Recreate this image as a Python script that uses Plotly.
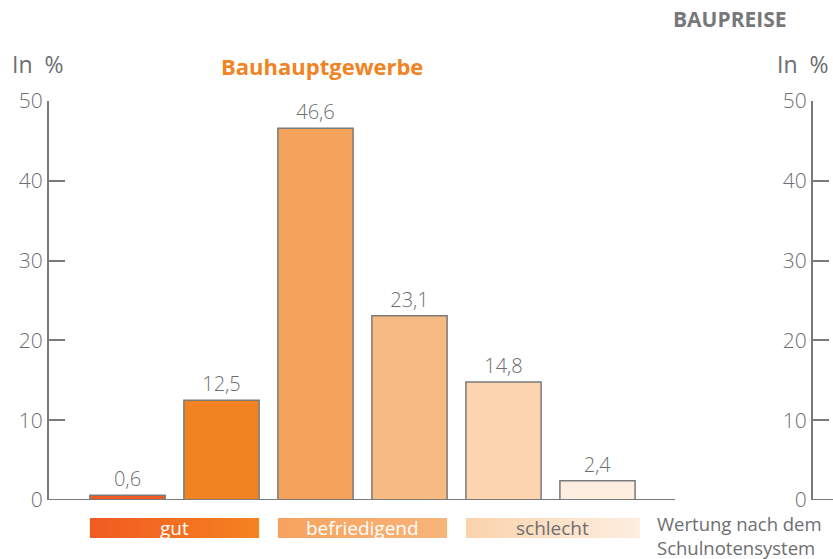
import plotly.graph_objects as go

# ---- data ----
grades = ["1", "2", "3", "4", "5", "6"]
shares = [0.6, 12.5, 46.6, 23.1, 14.8, 2.4]
bar_colors = ["#F15A22", "#F28322", "#F5A35C", "#F8BA83", "#FCD4AE", "#FDEEDF"]
y_ticks = [0, 10, 20, 30, 40, 50]
legend_labels = ["gut", "befriedigend", "schlecht"]
legend_first = [0, 2, 4]
legend_last = [1, 3, 5]
legend_extra = [0.0, 0.0, 0.05]
legend_colors = [("#F15A22", "#F4831F"), ("#F6A35E", "#F8B47A"), ("#FBD3AD", "#FDEEE0")]
legend_text_colors = ["white", "white", "#6d6e71"]

GRAY = "#6d6e71"
AXC = "#7a7a7a"
FONT = "Open Sans"
W, H = 833, 559
ML, MT = 49, 101
BAR_W = 0.8

x = list(range(len(grades)))

plot_w = W - ML
plot_h = H - MT
right_axis = (812 - ML) / plot_w
y_bottom = (H - 500) / plot_h
px_per_cat = 94
xr = [-(127.5 - ML) / px_per_cat, -(127.5 - ML) / px_per_cat + (W - ML) / px_per_cat]
x_main_end = (675 - 127.5) / px_per_cat

fig = go.Figure()
fig.add_trace(go.Bar(
    x=x, y=shares, width=BAR_W,
    marker=dict(color=bar_colors, line=dict(color=AXC, width=1.5)),
    text=[f"{v:.1f}".replace(".", ",") for v in shares],
    textposition="outside", cliponaxis=False,
    textfont=dict(family=FONT, size=20, color=GRAY, weight=300),
    xaxis="x", yaxis="y", showlegend=False, hoverinfo="skip",
))
# invisible trace on the right-hand axis
fig.add_trace(go.Scatter(x=[x[0]], y=[0], mode="markers", marker=dict(opacity=0),
                         xaxis="x", yaxis="y2", showlegend=False, hoverinfo="skip"))

# gradient legend bands
for lab, a, b, ex, (c0, c1), tc in zip(legend_labels, legend_first, legend_last,
                                       legend_extra, legend_colors, legend_text_colors):
    x0 = a - BAR_W / 2
    x1 = b + BAR_W / 2 + ex
    fig.add_trace(go.Scatter(
        x=[x0, x1, x1, x0, x0], y=[0, 0, 1, 1, 0],
        fill="toself", mode="lines", line=dict(width=0),
        fillgradient=dict(type="horizontal", colorscale=[[0, c0], [1, c1]]),
        xaxis="x3", yaxis="y3", showlegend=False, hoverinfo="skip",
    ))
    fig.add_annotation(x=(x0 + x1) / 2, y=0.5, xref="x3", yref="y3",
                       text=lab, showarrow=False,
                       font=dict(family=FONT, size=19, color=tc))

axis_common = dict(
    range=[0, 50], tickvals=y_ticks, ticks="inside", tickwidth=2, ticklen=16,
    tickcolor=AXC, showline=True, linecolor=AXC, linewidth=2,
    showgrid=False, zeroline=False, layer="above traces",
    tickfont=dict(family=FONT, size=21, color=GRAY, weight=300),
)

fig.update_layout(
    width=W, height=H,
    margin=dict(l=ML, r=0, t=MT, b=0, autoexpand=False),
    paper_bgcolor="white", plot_bgcolor="rgba(0,0,0,0)",
    xaxis=dict(domain=[0, 1], range=xr, showline=False, showticklabels=False,
               ticks="", showgrid=False, zeroline=False, anchor="y"),
    yaxis=dict(anchor="x", domain=[y_bottom, 1], **axis_common),
    yaxis2=dict(overlaying="y", anchor="free", position=right_axis, side="left",
                **axis_common),
    xaxis3=dict(domain=[0, 1], range=xr, visible=False, anchor="y3"),
    yaxis3=dict(domain=[(H - 538) / plot_h, (H - 518) / plot_h], range=[0, 1],
                visible=False, anchor="x3"),
    bargap=0.2,
    shapes=[
        dict(type="line", xref="x", yref="y", x0=xr[0], x1=x_main_end, y0=0, y1=0,
             line=dict(color=AXC, width=2)),
        dict(type="line", xref="paper", yref="y", x0=right_axis, x1=1, y0=0, y1=0,
             line=dict(color=AXC, width=2)),
    ],
)

fig.add_annotation(x=10, y=64, xref="paper", yref="paper", text="In&#160;&#160;%",
                   showarrow=False, xanchor="left", yanchor="middle",
                   font=dict(family=FONT, size=23, color=GRAY))
fig.add_annotation(x=831, y=64, xref="paper", yref="paper", text="In&#160;&#160;%",
                   showarrow=False, xanchor="right", yanchor="middle",
                   font=dict(family=FONT, size=23, color=GRAY))
fig.add_annotation(x=322, y=66, xref="paper", yref="paper", text="<b>Bauhauptgewerbe</b>",
                   showarrow=False, xanchor="center", yanchor="middle",
                   font=dict(family=FONT, size=22, color="#F28322"))
fig.add_annotation(x=789, y=19, xref="paper", yref="paper", text="<b>BAUPREISE</b>",
                   showarrow=False, xanchor="right", yanchor="middle",
                   font=dict(family=FONT, size=21, color="#77787b"))
fig.add_annotation(x=655, y=535, xref="paper", yref="paper",
                   text="Wertung nach dem<br>Schulnotensystem",
                   showarrow=False, xanchor="left", yanchor="middle", align="left",
                   font=dict(family=FONT, size=18.5, color=GRAY))

# convert pixel annotations to paper coords
for ann in fig.layout.annotations:
    if ann.xref == "paper":
        ann.x = (ann.x - ML) / plot_w
        ann.y = (H - ann.y) / plot_h

fig.write_html("out.html", config={"displayModeBar": False},
               post_script="document.body.style.margin='0';document.body.style.overflow='hidden';")
